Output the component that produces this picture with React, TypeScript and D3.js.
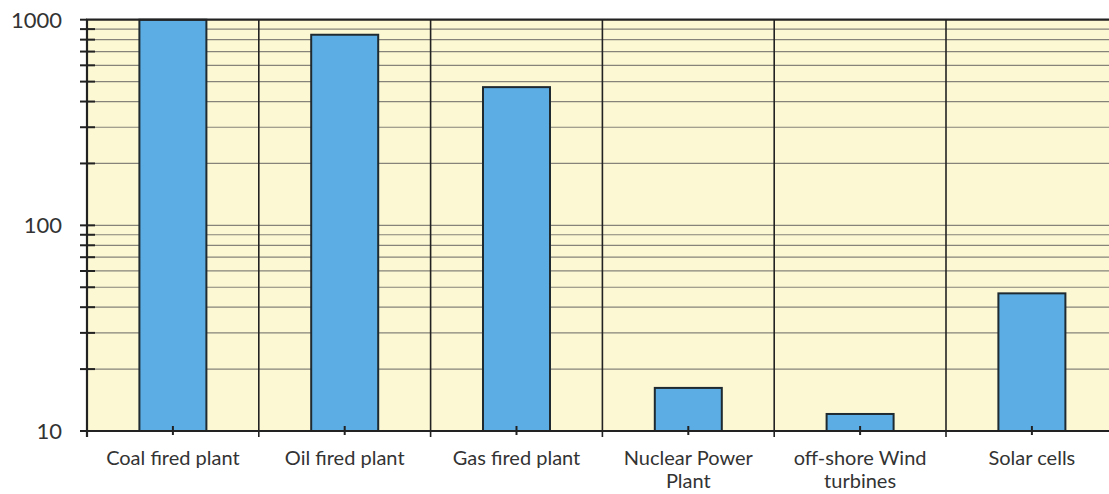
import React from "react";
import * as d3 from "d3";

const categories = [
  "Coal fired plant",
  "Oil fired plant",
  "Gas fired plant",
  "Nuclear Power\nPlant",
  "off-shore Wind\nturbines",
  "Solar cells",
];
const values = [1000, 845, 470, 16.2, 12.1, 46.7];
const yTickLabels = [10, 100, 1000];

const W = 1109;
const H = 494;
const left = 87;
const top = 19.7;
const bottom = 431;
const catW = 171.8;
const right = left + catW * categories.length;

export default function App() {
  const x = d3.scaleBand<string>().domain(categories).range([left, right]).paddingInner(0).paddingOuter(0);
  const y = d3.scaleLog().domain([10, 1000]).range([bottom, top]);
  const bw = x.bandwidth();
  const barW = bw * 0.39;

  const gridVals: number[] = [];
  [10, 100].forEach((d) => {
    for (let k = 1; k <= 10; k++) gridVals.push(k * d);
  });
  const uniq = Array.from(new Set(gridVals));

  const font = "Lato, 'Open Sans', sans-serif";
  const textColor = "#333";

  return (
    <svg
      width={W}
      height={H}
      style={{ position: "absolute", left: 0, top: 0, display: "block" }}
    >
      <rect x={0} y={0} width={W} height={H} fill="#ffffff" />
      <rect x={left} y={top} width={right - left} height={bottom - top} fill="#fdf8d4" />
      {uniq
        .filter((v) => v > 10 && v < 1000)
        .map((v) => (
          <line
            key={"g" + v}
            x1={left}
            x2={right}
            y1={y(v)}
            y2={y(v)}
            stroke="#85837a"
            strokeWidth={1.2}
          />
        ))}
      {uniq.map((v) => (
        <line
          key={"t" + v}
          x1={80}
          x2={v === 1000 ? left : 95}
          y1={y(v)}
          y2={y(v)}
          stroke="#222"
          strokeWidth={2}
        />
      ))}
      {categories.map((c, i) => (
        <line
          key={"b" + i}
          x1={x(c)!}
          x2={x(c)!}
          y1={top}
          y2={437}
          stroke="#222"
          strokeWidth={i === 0 ? 2.2 : 1.6}
        />
      ))}
      {categories.map((c, i) => (
        <rect
          key={"r" + i}
          x={x(c)! + (bw - barW) / 2}
          y={y(values[i])}
          width={barW}
          height={bottom - y(values[i])}
          fill="#5badE4"
          stroke="#1f2a30"
          strokeWidth={2}
        />
      ))}
      {categories.map((c, i) => (
        <line
          key={"c" + i}
          x1={x(c)! + bw / 2}
          x2={x(c)! + bw / 2}
          y1={426}
          y2={435}
          stroke="#222"
          strokeWidth={2}
        />
      ))}
      <line x1={left - 1} x2={right} y1={top} y2={top} stroke="#222" strokeWidth={2.2} />
      <line x1={80} x2={right} y1={bottom} y2={bottom} stroke="#222" strokeWidth={2.2} />
      {yTickLabels.map((v) => (
        <text
          key={"yl" + v}
          x={62}
          y={y(v)}
          dy="0.36em"
          textAnchor="end"
          fontFamily={font}
          fontSize={22}
          fill={textColor}
        >
          {v}
        </text>
      ))}
      {categories.map((c, i) => (
        <text
          key={"xl" + i}
          x={x(c)! + bw / 2}
          y={465}
          textAnchor="middle"
          fontFamily={font}
          fontSize={20}
          fill={textColor}
        >
          {c.split("\n").map((line, j) => (
            <tspan key={j} x={x(c)! + bw / 2} dy={j === 0 ? 0 : 23}>
              {line}
            </tspan>
          ))}
        </text>
      ))}
    </svg>
  );
}
